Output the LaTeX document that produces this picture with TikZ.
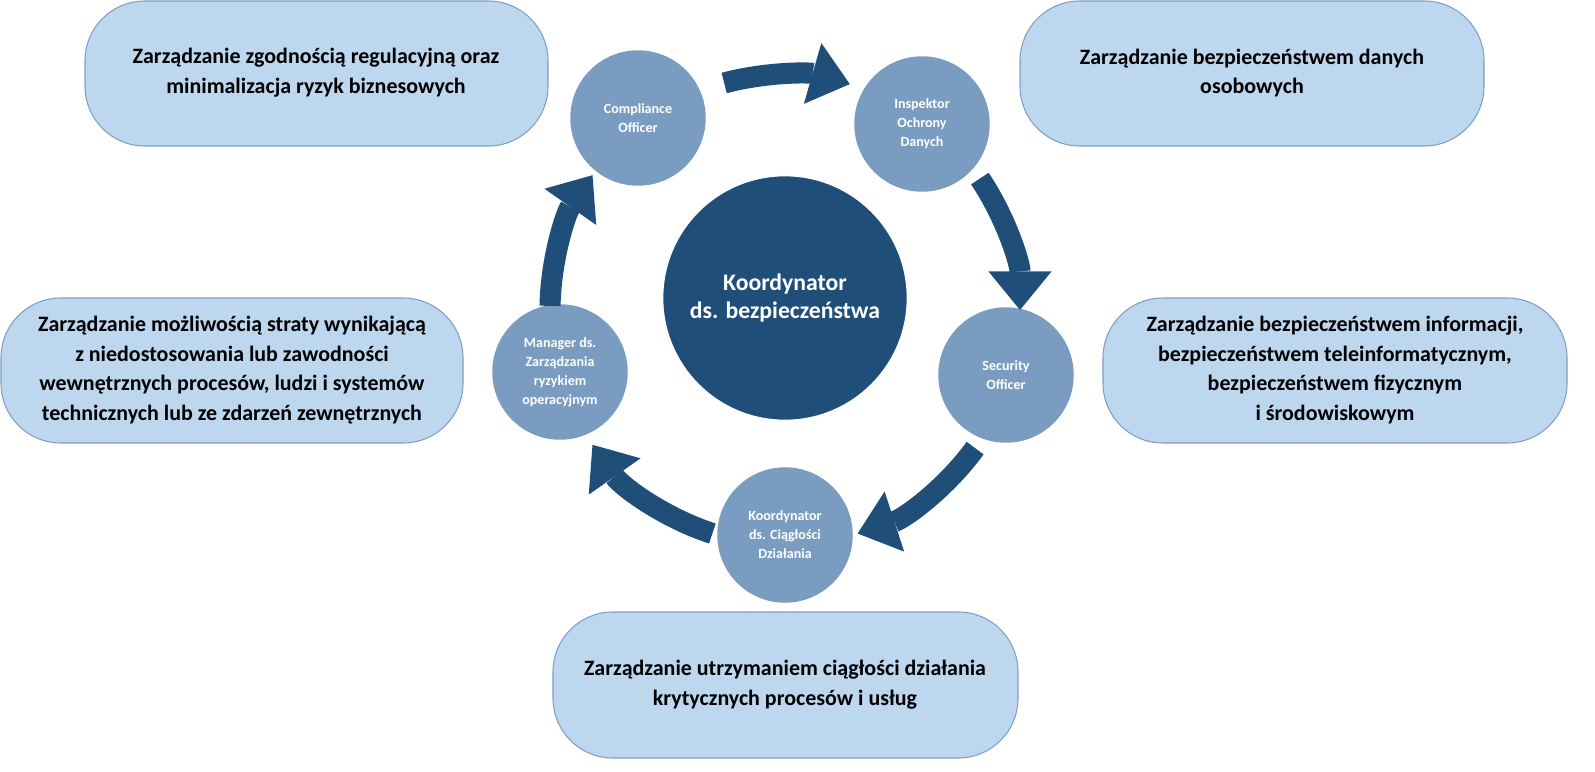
\documentclass[tikz,border=0pt]{standalone}
\usepackage{fontspec}
\setmainfont{Carlito}
\usetikzlibrary{arrows.meta}
\definecolor{dark}{HTML}{1F4E79}
\definecolor{mid}{HTML}{7A9CC0}
\definecolor{light}{HTML}{BDD7EE}
\definecolor{edge}{HTML}{7F9FC5}
\begin{document}
\begin{tikzpicture}[x=0.02cm,y=-0.02cm,
  box/.style={draw=edge,line width=0.6pt,fill=light,rounded corners=34pt},
  btext/.style={align=center,font=\fontsize{12.5}{17}\selectfont\bfseries},
  small/.style={circle,fill=mid,minimum size=136*0.567pt,inner sep=0pt,align=center,text=white,font=\fontsize{8}{10.8}\selectfont\bfseries},
  arr/.style={dark,line width=12pt,-{Triangle[width=36pt,length=22pt,line width=0pt]}}]
\useasboundingbox (0,0) rectangle (1595,771);
% boxes
\draw[box] (85,1) rectangle (548,146);
\node[btext] (t1) at (316,73) {Zarządzanie zgodnością regulacyjną oraz\\minimalizacja ryzyk biznesowych};
\draw[box] (1020,1) rectangle (1484,146);
\node[btext] (t2) at (1252,73) {Zarządzanie bezpieczeństwem danych\\osobowych};
\draw[box] (1103,298) rectangle (1567,443);
\node[btext] (t3) at (1335,370) {Zarządzanie bezpieczeństwem informacji,\\bezpieczeństwem teleinformatycznym,\\bezpieczeństwem fizycznym\\i środowiskowym};
\draw[box] (1,298) rectangle (463,443);
\node[btext] (t4) at (232,370) {Zarządzanie możliwością straty wynikającą\\z niedostosowania lub zawodności\\wewnętrznych procesów, ludzi i systemów\\technicznych lub ze zdarzeń zewnętrznych};
\draw[box] (553,612) rectangle (1018,758);
\node[btext] (t5) at (785,685) {Zarządzanie utrzymaniem ciągłości działania\\krytycznych procesów i usług};
% center
\node[circle,fill=dark,draw=white,line width=1pt,minimum size=246*0.567pt,inner sep=0pt,align=center,text=white,font=\fontsize{13.5}{16}\selectfont\bfseries] (c) at (785,298) {Koordynator\\ds. bezpieczeństwa};
% small circles
\node[small] (n1) at (638,118) {Compliance\\Officer};
\node[small] (n2) at (922,124) {Inspektor\\Ochrony\\Danych};
\node[small] (n3) at (1006,375) {Security\\Officer};
\node[small] (n4) at (785,535) {Koordynator\\ds. Ciągłości\\Działania};
\node[small] (n5) at (560,372) {Manager ds.\\Zarządzania\\ryzykiem\\operacyjnym};
% arrows
\coordinate (o) at (785,310);
\draw[arr] ([shift={(105:235 and -235)}]o) arc[start angle=-105,end angle=-74,radius=235];
\draw[arr] ([shift={(34:235 and -235)}]o) arc[start angle=-34,end angle=0,radius=235];
\draw[arr] ([shift={(-36:235 and -235)}]o) arc[start angle=36,end angle=72,radius=235];
\draw[arr] ([shift={(-108:235 and -235)}]o) arc[start angle=108,end angle=145,radius=235];
\draw[arr] ([shift={(179:235 and -235)}]o) arc[start angle=-179,end angle=-145,radius=235];
\end{tikzpicture}
\end{document}
